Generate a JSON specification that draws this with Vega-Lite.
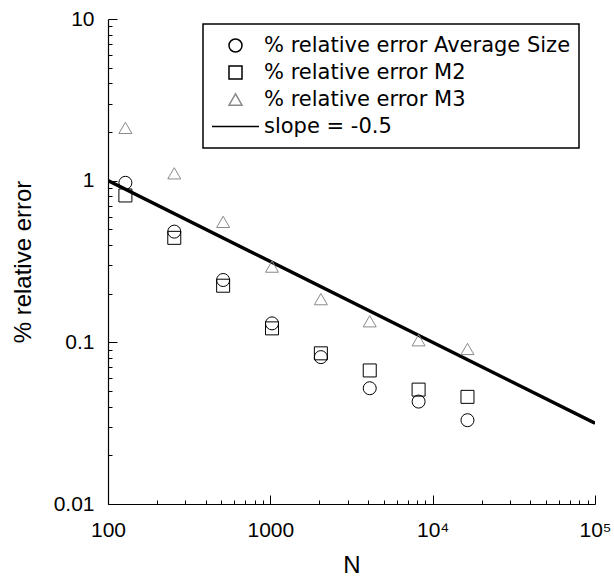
{
  "$schema": "https://vega.github.io/schema/vega-lite/v6.json",
  "width": 487,
  "height": 485,
  "autosize": "none",
  "padding": {"left": 108, "top": 19, "right": 19, "bottom": 75},
  "background": "white",
  "config": {
    "font": "Liberation Sans",
    "view": {"stroke": null},
    "axis": {
      "domainColor": "black", "domainWidth": 1.2, "tickColor": "black", "tickWidth": 1,
      "labelColor": "black", "titleColor": "black", "labelFontSize": 21, "titleFontSize": 24,
      "titleFontWeight": "normal", "grid": false, "labelOverlap": false, "labelFlush": false, "labelBound": false
    },
    "legend": {
      "orient": "none", "legendX": 95, "legendY": 5,
      "strokeColor": "black", "strokeWidth": 1.5, "fillColor": "white",
      "padding": 8, "labelFont": "DejaVu Sans", "labelFontSize": 21, "labelColor": "black", "labelLimit": 400,
      "labelOffset": 4, "clipHeight": 27, "rowPadding": 0
    }
  },
  "datasets": {
    "pts": [
      {"N": 128, "err": 0.97, "series": "% relative error Average Size"},
      {"N": 256, "err": 0.484, "series": "% relative error Average Size"},
      {"N": 512, "err": 0.243, "series": "% relative error Average Size"},
      {"N": 1024, "err": 0.131, "series": "% relative error Average Size"},
      {"N": 2048, "err": 0.081, "series": "% relative error Average Size"},
      {"N": 4096, "err": 0.052, "series": "% relative error Average Size"},
      {"N": 8192, "err": 0.043, "series": "% relative error Average Size"},
      {"N": 16384, "err": 0.033, "series": "% relative error Average Size"},
      {"N": 128, "err": 0.81, "series": "% relative error M2"},
      {"N": 256, "err": 0.443, "series": "% relative error M2"},
      {"N": 512, "err": 0.224, "series": "% relative error M2"},
      {"N": 1024, "err": 0.122, "series": "% relative error M2"},
      {"N": 2048, "err": 0.0855, "series": "% relative error M2"},
      {"N": 4096, "err": 0.067, "series": "% relative error M2"},
      {"N": 8192, "err": 0.051, "series": "% relative error M2"},
      {"N": 16384, "err": 0.046, "series": "% relative error M2"},
      {"N": 128, "err": 2.12, "series": "% relative error M3"},
      {"N": 256, "err": 1.11, "series": "% relative error M3"},
      {"N": 512, "err": 0.556, "series": "% relative error M3"},
      {"N": 1024, "err": 0.294, "series": "% relative error M3"},
      {"N": 2048, "err": 0.185, "series": "% relative error M3"},
      {"N": 4096, "err": 0.135, "series": "% relative error M3"},
      {"N": 8192, "err": 0.103, "series": "% relative error M3"},
      {"N": 16384, "err": 0.091, "series": "% relative error M3"}
    ],
    "slope": [
      {"N": 100, "err": 1, "series": "slope = -0.5"},
      {"N": 100000, "err": 0.031623, "series": "slope = -0.5"}
    ]
  },
  "layer": [
    {
      "data": {"name": "slope"},
      "mark": {"type": "line", "strokeWidth": 3.5, "clip": true},
      "encoding": {
        "x": {"field": "N", "type": "quantitative", "scale": {"type": "log", "domain": [100, 100000], "nice": false},
          "axis": {
            "title": "N", "titlePadding": 8, "labelPadding": 24,
            "values": [100,200,300,400,500,600,700,800,900,1000,2000,3000,4000,5000,6000,7000,8000,9000,10000,20000,30000,40000,50000,60000,70000,80000,90000,100000],
            "labelExpr": "datum.value == 100 ? '100' : datum.value == 1000 ? '1000' : datum.value == 10000 ? '10⁴' : datum.value == 100000 ? '10⁵' : ''",
            "tickSize": {"condition": {"test": "datum.value == 100 || datum.value == 1000 || datum.value == 10000 || datum.value == 100000", "value": -9}, "value": -4}
          }},
        "y": {"field": "err", "type": "quantitative", "scale": {"type": "log", "domain": [0.01, 10], "nice": false},
          "axis": {
            "title": "% relative error", "titlePadding": 18, "labelPadding": 23,
            "values": [0.01,0.02,0.03,0.04,0.05,0.06,0.07,0.08,0.09,0.1,0.2,0.3,0.4,0.5,0.6,0.7,0.8,0.9,1,2,3,4,5,6,7,8,9,10],
            "labelExpr": "datum.value == 10 ? '10' : datum.value == 1 ? '1' : datum.value == 0.1 ? '0.1' : datum.value == 0.01 ? '0.01' : ''",
            "tickSize": {"condition": {"test": "datum.value == 10 || datum.value == 1 || datum.value == 0.1 || datum.value == 0.01", "value": -9}, "value": -4}
          }},
        "stroke": {"field": "series", "type": "nominal",
          "scale": {"domain": ["% relative error Average Size", "% relative error M2", "% relative error M3", "slope = -0.5"], "range": ["black", "black", "#8a8a8a", "black"]},
          "legend": {"title": null}}
      }
    },
    {
      "data": {"name": "pts"},
      "mark": {"type": "point", "filled": false, "strokeWidth": 1, "opacity": 1},
      "encoding": {
        "x": {"field": "N", "type": "quantitative"},
        "y": {"field": "err", "type": "quantitative"},
        "stroke": {"field": "series", "type": "nominal"},
        "shape": {"field": "series", "type": "nominal",
          "scale": {"domain": ["% relative error Average Size", "% relative error M2", "% relative error M3", "slope = -0.5"], "range": ["circle", "square", "triangle-up", "stroke"]},
          "legend": {"title": null, "encode": {"symbols": {"update": {"strokeWidth": {"signal": "datum.value == 'slope = -0.5' ? 3.5 : 1"}}}}}},
        "size": {"field": "series", "type": "nominal",
          "scale": {"type": "ordinal", "domain": ["% relative error Average Size", "% relative error M2", "% relative error M3", "slope = -0.5"], "range": [169, 169, 169, 2209]},
          "legend": {"title": null}}
      }
    }
  ]
}
